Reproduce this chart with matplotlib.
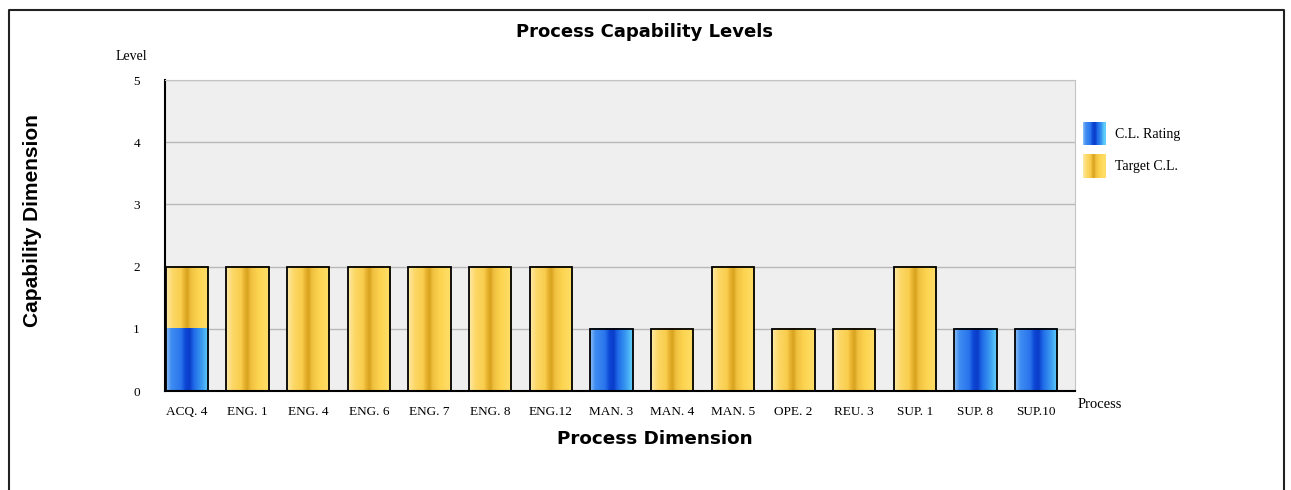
import numpy as np
import matplotlib
matplotlib.use("Agg")
from matplotlib import pyplot as plt
from matplotlib.patches import Rectangle
from matplotlib.legend_handler import HandlerBase
from matplotlib.colors import LinearSegmentedColormap
from matplotlib.lines import Line2D

processes = ["ACQ. 4", "ENG. 1", "ENG. 4", "ENG. 6", "ENG. 7", "ENG. 8", "ENG.12",
             "MAN. 3", "MAN. 4", "MAN. 5", "OPE. 2", "REU. 3", "SUP. 1", "SUP. 8", "SUP.10"]
target_cl = [2, 2, 2, 2, 2, 2, 2, 1, 1, 2, 1, 1, 2, 1, 1]
cl_rating = [1, 0, 0, 0, 0, 0, 0, 1, 0, 0, 0, 0, 0, 1, 1]
levels = [0, 1, 2, 3, 4, 5]

# stripe colours across the bar width (left -> right)
yellow = LinearSegmentedColormap.from_list("yel", [
    (0.0, "#fde9a6"), (0.15, "#fdd868"), (0.35, "#f9cd4c"), (0.42, "#e8b532"),
    (0.5, "#d8a21e"), (0.58, "#f0c040"), (0.75, "#fdd450"), (1.0, "#ffdf6a")])
blue = LinearSegmentedColormap.from_list("blu", [
    (0.0, "#8cc0f7"), (0.12, "#3f8cf2"), (0.35, "#2a74ec"), (0.45, "#0d47d6"),
    (0.55, "#0a3cc8"), (0.65, "#1f6ae8"), (0.85, "#3d9ef2"), (1.0, "#63d4fa")])


class GradHandler(HandlerBase):
    def __init__(self, cmap):
        super().__init__()
        self.cmap = cmap

    def create_artists(self, legend, orig, xdescent, ydescent, width, height, fontsize, trans):
        n = 24
        arts = []
        for i in range(n):
            r = Rectangle((-xdescent + width * i / n, -ydescent), width / n + 0.3, height,
                          facecolor=self.cmap((i + 0.5) / n), edgecolor="none", transform=trans)
            arts.append(r)
        return arts


fig = plt.figure(figsize=(12.91, 4.90), dpi=100)
ax = fig.add_axes([165 / 1291, 1 - 391 / 490, (1075 - 165) / 1291, (391 - 80) / 490])
ax.set_facecolor("#efefef")

x = np.arange(len(processes))
w = 0.7
grad = np.linspace(0, 1, 200).reshape(1, -1)

# bars sit at the left of each slot
tb = ax.bar(x + 0.01, target_cl, width=w, align="edge", color="none", edgecolor="none")
rb = ax.bar(x + 0.01, cl_rating, width=w, align="edge", color="none", edgecolor="none")
for bars, cmap in ((tb, yellow), (rb, blue)):
    for b in bars:
        if b.get_height() <= 0:
            continue
        ax.imshow(grad, cmap=cmap, aspect="auto", interpolation="bilinear",
                  extent=(b.get_x(), b.get_x() + b.get_width(), 0, b.get_height()), zorder=2)
top = np.maximum(target_cl, cl_rating)
ax.bar(x + 0.01, top, width=w, align="edge", color="none", edgecolor="black",
       linewidth=1.3, zorder=3)

ax.set_xlim(0, len(processes))
ax.set_ylim(0, 5)
ax.set_xticks(x + 0.01 + w / 2)
ax.set_xticklabels(processes, family="Liberation Serif", fontsize=9.5)
ax.set_yticks(levels)
ax.set_yticklabels([str(v) for v in levels], family="Liberation Serif", fontsize=9.5)
ax.tick_params(axis="x", length=0, pad=11)
ax.tick_params(axis="y", length=0, pad=18)
ax.yaxis.grid(True, color="#b8b8b8", linewidth=1)
ax.set_axisbelow(True)
for s in ("top", "right"):
    ax.spines[s].set_color("#c4c4c4")
ax.spines["left"].set_color("black")
ax.spines["left"].set_linewidth(1.5)
ax.spines["bottom"].set_color("black")
ax.spines["bottom"].set_linewidth(1.5)

h1 = Rectangle((0, 0), 1, 1)
h2 = Rectangle((0, 0), 1, 1)
fig.legend([h1, h2], ["C.L. Rating", "Target C.L."],
           handler_map={h1: GradHandler(blue), h2: GradHandler(yellow)},
           loc="upper left", bbox_to_anchor=(1083 / 1291, 1 - 122 / 490),
           frameon=False, prop={"family": "Liberation Serif", "size": 10},
           borderpad=0, borderaxespad=0,
           handlelength=1.6, handleheight=2.2, handletextpad=0.7, labelspacing=0.65)

fig.text(645 / 1291, 1 - 32 / 490, "Process Capability Levels", ha="center", va="center",
         fontsize=13, fontweight="bold", family="DejaVu Sans")
fig.text(655 / 1291, 1 - 439 / 490, "Process Dimension", ha="center", va="center",
         fontsize=13.2, fontweight="bold", family="DejaVu Sans")
fig.text(33 / 1291, 1 - 221 / 490, "Capability Dimension", ha="center", va="center",
         rotation=90, fontsize=15, fontweight="bold", family="Liberation Sans")
fig.text(147 / 1291, 1 - 57 / 490, "Level", ha="right", va="center",
         fontsize=10, family="Liberation Serif")
fig.text(1078 / 1291, 1 - 404 / 490, "Process", ha="left", va="center",
         fontsize=10.5, family="Liberation Serif")

# outer frame (open at bottom)
fx0, fx1, fy = 9 / 1291, 1284 / 1291, 1 - 10 / 490
fig.add_artist(Line2D([fx0, fx0, fx1, fx1], [0, fy, fy, 0], color="#222222", linewidth=1.5))

fig.savefig("out.png", dpi=100)
